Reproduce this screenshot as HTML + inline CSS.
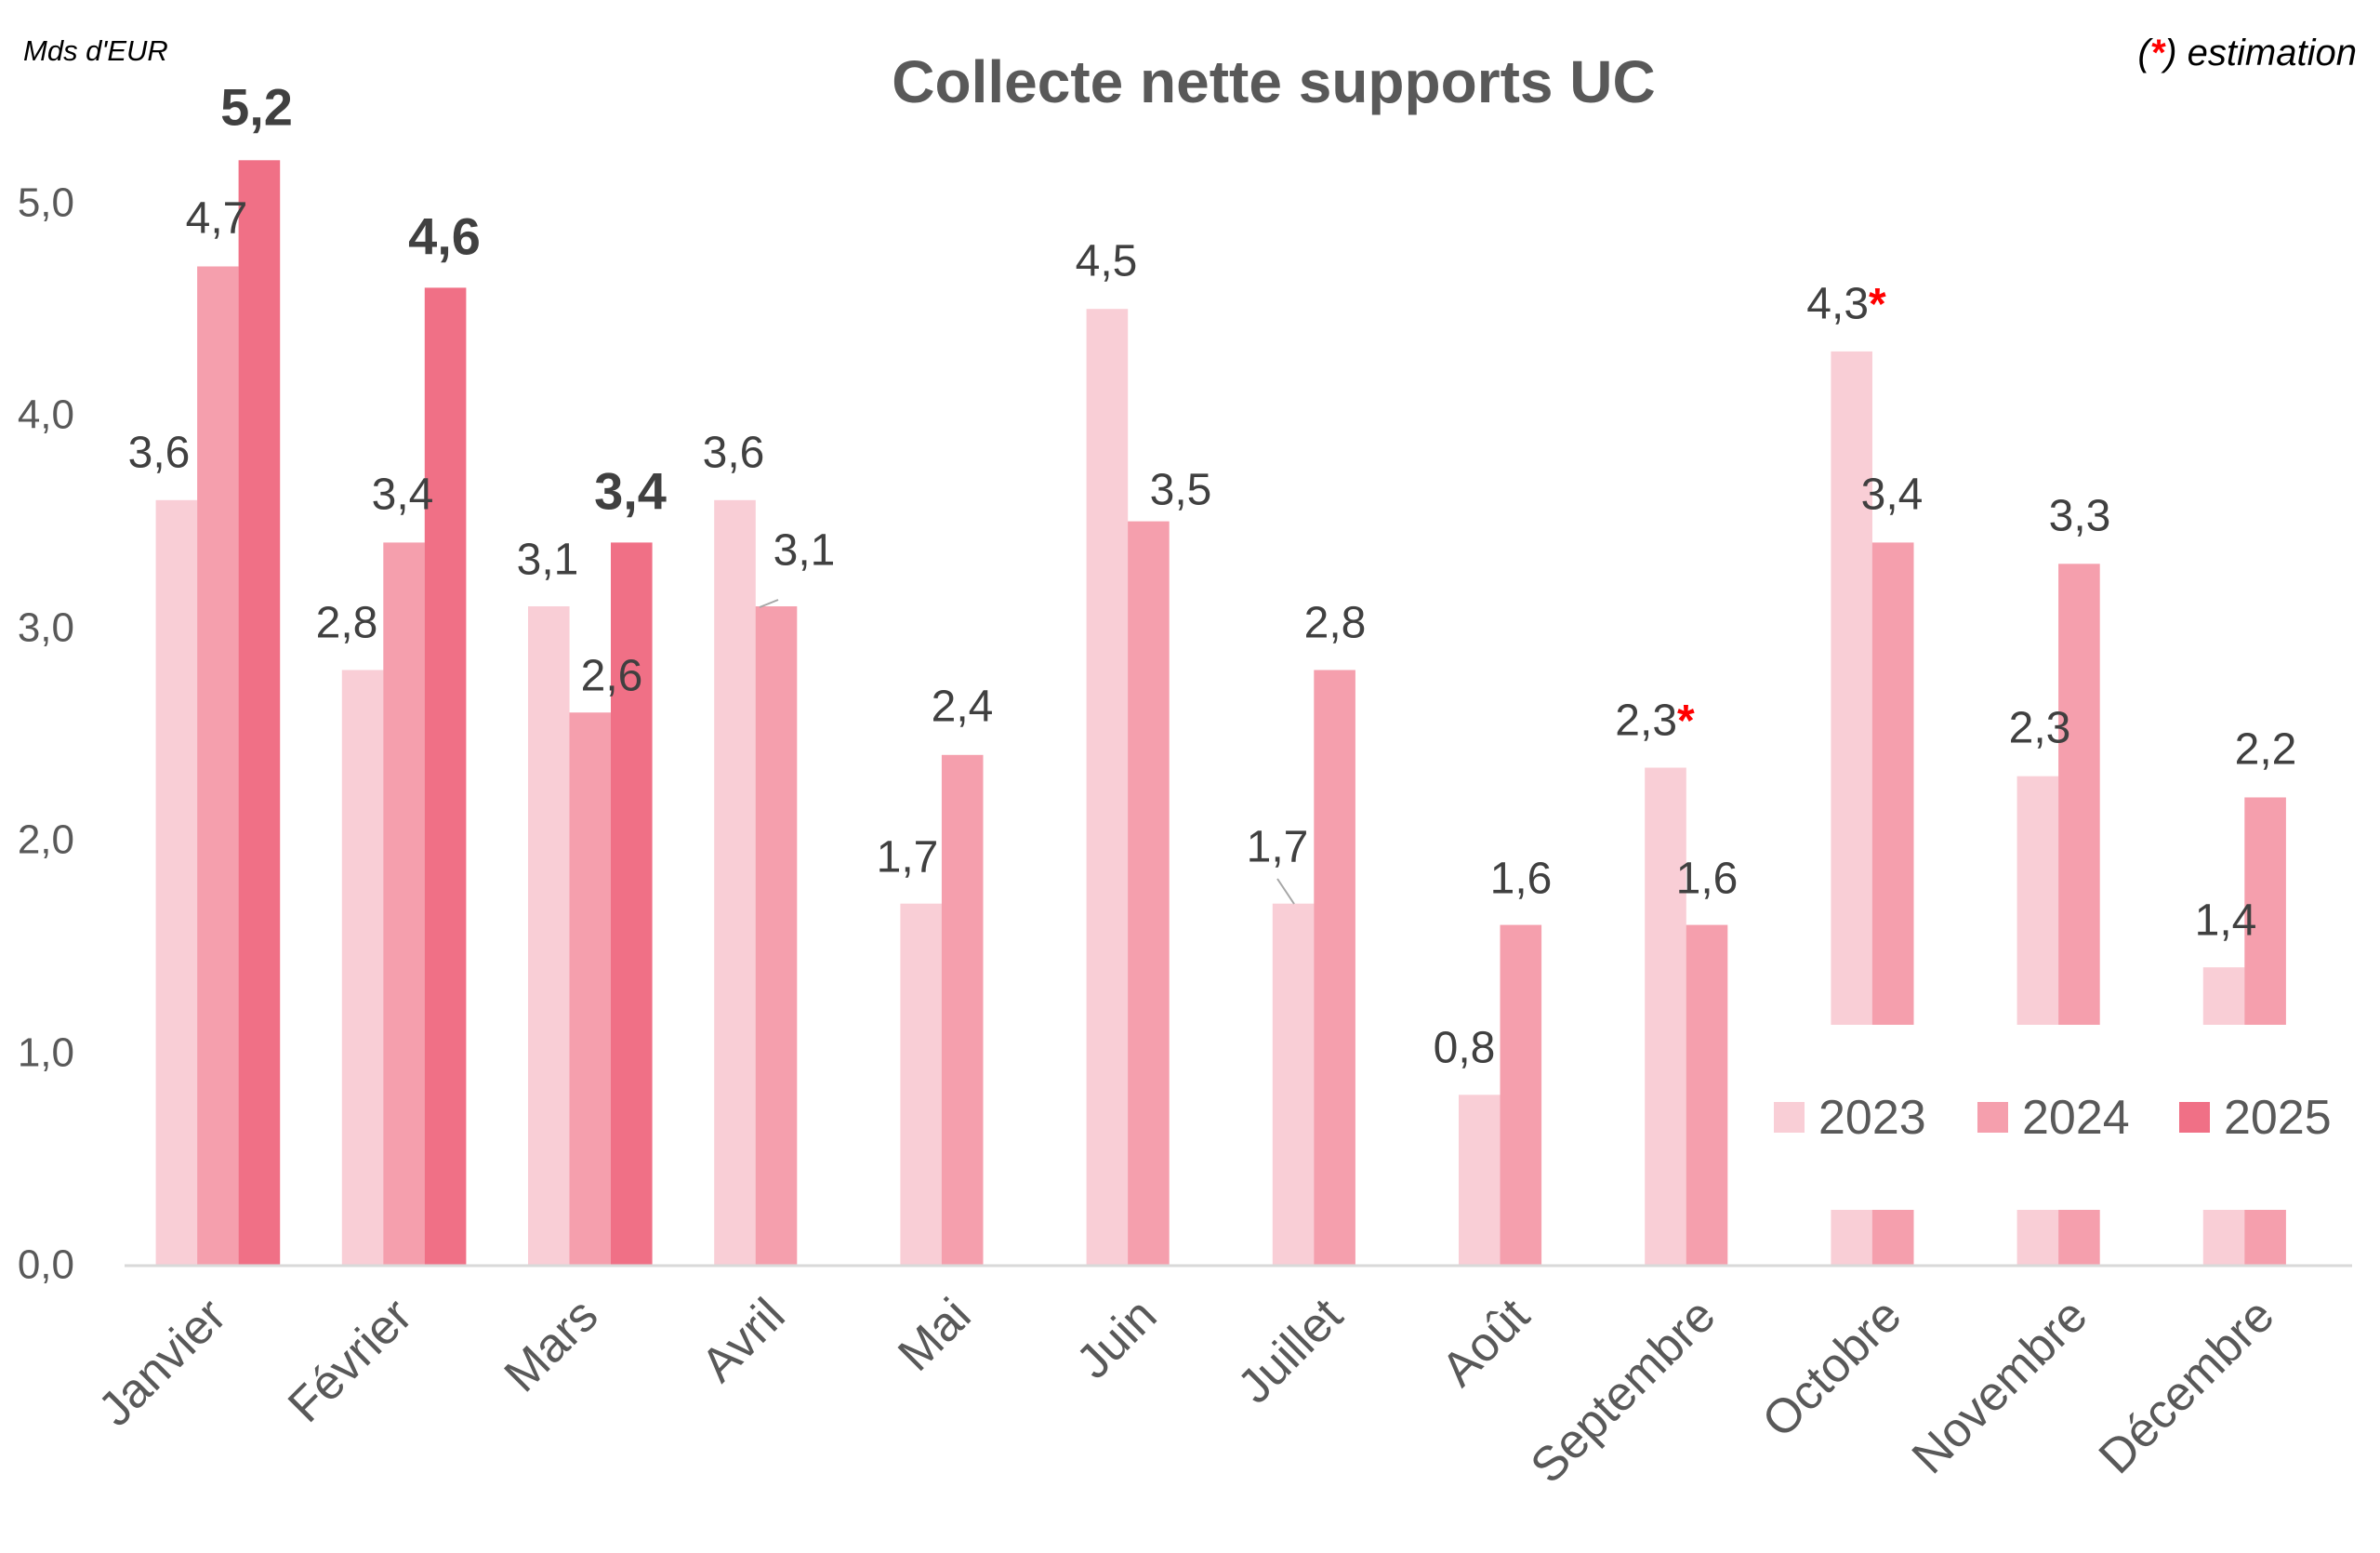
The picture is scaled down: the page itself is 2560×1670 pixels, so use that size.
<!DOCTYPE html>
<html><head><meta charset="utf-8"><style>
html,body{margin:0;padding:0;background:#fff;}
svg{display:block;}
text{font-family:"Liberation Sans",sans-serif;}
</style></head><body>
<svg width="2560" height="1670" viewBox="0 0 2560 1670" xmlns="http://www.w3.org/2000/svg">
<rect width="2560" height="1670" fill="#fff"/>
<text x="1370" y="110" font-size="64" font-weight="bold" fill="#595959" text-anchor="middle">Collecte nette supports UC</text>
<text x="25" y="65" font-size="31" font-style="italic" fill="#000">Mds d'EUR</text>
<text x="2535" y="70" font-size="40" font-style="italic" fill="#000" text-anchor="end">(<tspan fill="#f00" font-weight="bold">*</tspan>) estimation</text>
<g font-size="44" fill="#595959" text-anchor="end" dominant-baseline="central">
<text x="80" y="1360">0,0</text><text x="80" y="1132">1,0</text><text x="80" y="903">2,0</text>
<text x="80" y="675">3,0</text><text x="80" y="446">4,0</text><text x="80" y="218">5,0</text>
</g>
<g>
<rect x="167.6" y="537.8" width="44.6" height="822.2" fill="#F9CED6"/>
<rect x="212.1" y="286.5" width="44.6" height="1073.5" fill="#F59FAD"/>
<rect x="256.6" y="172.3" width="44.6" height="1187.7" fill="#F07086"/>
<rect x="367.8" y="720.5" width="44.6" height="639.5" fill="#F9CED6"/>
<rect x="412.3" y="583.4" width="44.6" height="776.6" fill="#F59FAD"/>
<rect x="456.8" y="309.4" width="44.6" height="1050.6" fill="#F07086"/>
<rect x="568.0" y="652.0" width="44.6" height="708.0" fill="#F9CED6"/>
<rect x="612.5" y="766.2" width="44.6" height="593.8" fill="#F59FAD"/>
<rect x="657.0" y="583.4" width="44.6" height="776.6" fill="#F07086"/>
<rect x="768.2" y="537.8" width="44.6" height="822.2" fill="#F9CED6"/>
<rect x="812.7" y="652.0" width="44.6" height="708.0" fill="#F59FAD"/>
<rect x="968.4" y="971.7" width="44.6" height="388.3" fill="#F9CED6"/>
<rect x="1012.9" y="811.8" width="44.6" height="548.2" fill="#F59FAD"/>
<rect x="1168.6" y="332.2" width="44.6" height="1027.8" fill="#F9CED6"/>
<rect x="1213.1" y="560.6" width="44.6" height="799.4" fill="#F59FAD"/>
<rect x="1368.8" y="971.7" width="44.6" height="388.3" fill="#F9CED6"/>
<rect x="1413.3" y="720.5" width="44.6" height="639.5" fill="#F59FAD"/>
<rect x="1569.0" y="1177.3" width="44.6" height="182.7" fill="#F9CED6"/>
<rect x="1613.5" y="994.6" width="44.6" height="365.4" fill="#F59FAD"/>
<rect x="1769.2" y="825.5" width="44.6" height="534.5" fill="#F9CED6"/>
<rect x="1813.7" y="994.6" width="44.6" height="365.4" fill="#F59FAD"/>
<rect x="1969.4" y="377.9" width="44.6" height="982.1" fill="#F9CED6"/>
<rect x="2013.9" y="583.4" width="44.6" height="776.6" fill="#F59FAD"/>
<rect x="2169.6" y="834.7" width="44.6" height="525.3" fill="#F9CED6"/>
<rect x="2214.1" y="606.3" width="44.6" height="753.7" fill="#F59FAD"/>
<rect x="2369.8" y="1040.2" width="44.6" height="319.8" fill="#F9CED6"/>
<rect x="2414.3" y="857.5" width="44.6" height="502.5" fill="#F59FAD"/>
</g>
<line x1="134" y1="1361" x2="2530" y2="1361" stroke="#d9d9d9" stroke-width="3"/>
<rect x="1890" y="1102" width="655" height="199" fill="#fff"/>
<rect x="1908" y="1185" width="33" height="33" fill="#F9CED6"/>
<rect x="2127" y="1185" width="33" height="33" fill="#F59FAD"/>
<rect x="2344" y="1185" width="33" height="33" fill="#F07086"/>
<g font-size="52" fill="#595959" dominant-baseline="central">
<text x="1956" y="1202">2023</text><text x="2175" y="1202">2024</text><text x="2392" y="1202">2025</text>
</g>
<line x1="837" y1="645" x2="817" y2="653" stroke="#a6a6a6" stroke-width="2"/>
<line x1="1374" y1="945" x2="1392" y2="972" stroke="#a6a6a6" stroke-width="2"/>
<g font-size="48" fill="#404040" text-anchor="middle" dominant-baseline="central">
<text x="171" y="487">3,6</text><text x="233" y="235">4,7</text>
<text x="373" y="670">2,8</text><text x="433" y="532">3,4</text>
<text x="589" y="602">3,1</text><text x="658" y="727">2,6</text>
<text x="789" y="487">3,6</text><text x="865" y="592">3,1</text>
<text x="976" y="922">1,7</text><text x="1035" y="760">2,4</text>
<text x="1190" y="281">4,5</text><text x="1270" y="527">3,5</text>
<text x="1374" y="911">1,7</text><text x="1436" y="670">2,8</text>
<text x="1575" y="1127">0,8</text><text x="1636" y="945">1,6</text>
<text x="1780" y="775">2,3<tspan fill="#f00" font-weight="bold">*</tspan></text><text x="1836" y="945">1,6</text>
<text x="1986" y="327">4,3<tspan fill="#f00" font-weight="bold">*</tspan></text><text x="2035" y="532">3,4</text>
<text x="2194" y="783">2,3</text><text x="2237" y="555">3,3</text>
<text x="2394" y="990">1,4</text><text x="2437" y="806">2,2</text>
</g>
<g font-size="56" font-weight="bold" fill="#404040" text-anchor="middle" dominant-baseline="central">
<text x="276" y="115">5,2</text><text x="478" y="254">4,6</text><text x="678" y="528">3,4</text>
</g>
<g font-size="52" fill="#595959" text-anchor="end">
<text transform="translate(246,1418) rotate(-45)">Janvier</text>
<text transform="translate(446,1418) rotate(-45)">Février</text>
<text transform="translate(646,1418) rotate(-45)">Mars</text>
<text transform="translate(847,1418) rotate(-45)">Avril</text>
<text transform="translate(1047,1418) rotate(-45)">Mai</text>
<text transform="translate(1247,1418) rotate(-45)">Juin</text>
<text transform="translate(1447,1418) rotate(-45)">Juillet</text>
<text transform="translate(1648,1418) rotate(-45)">Août</text>
<text transform="translate(1848,1418) rotate(-45)">Septembre</text>
<text transform="translate(2048,1418) rotate(-45)">Octobre</text>
<text transform="translate(2248,1418) rotate(-45)">Novembre</text>
<text transform="translate(2449,1418) rotate(-45)">Décembre</text>
</g>
</svg>
</body></html>
